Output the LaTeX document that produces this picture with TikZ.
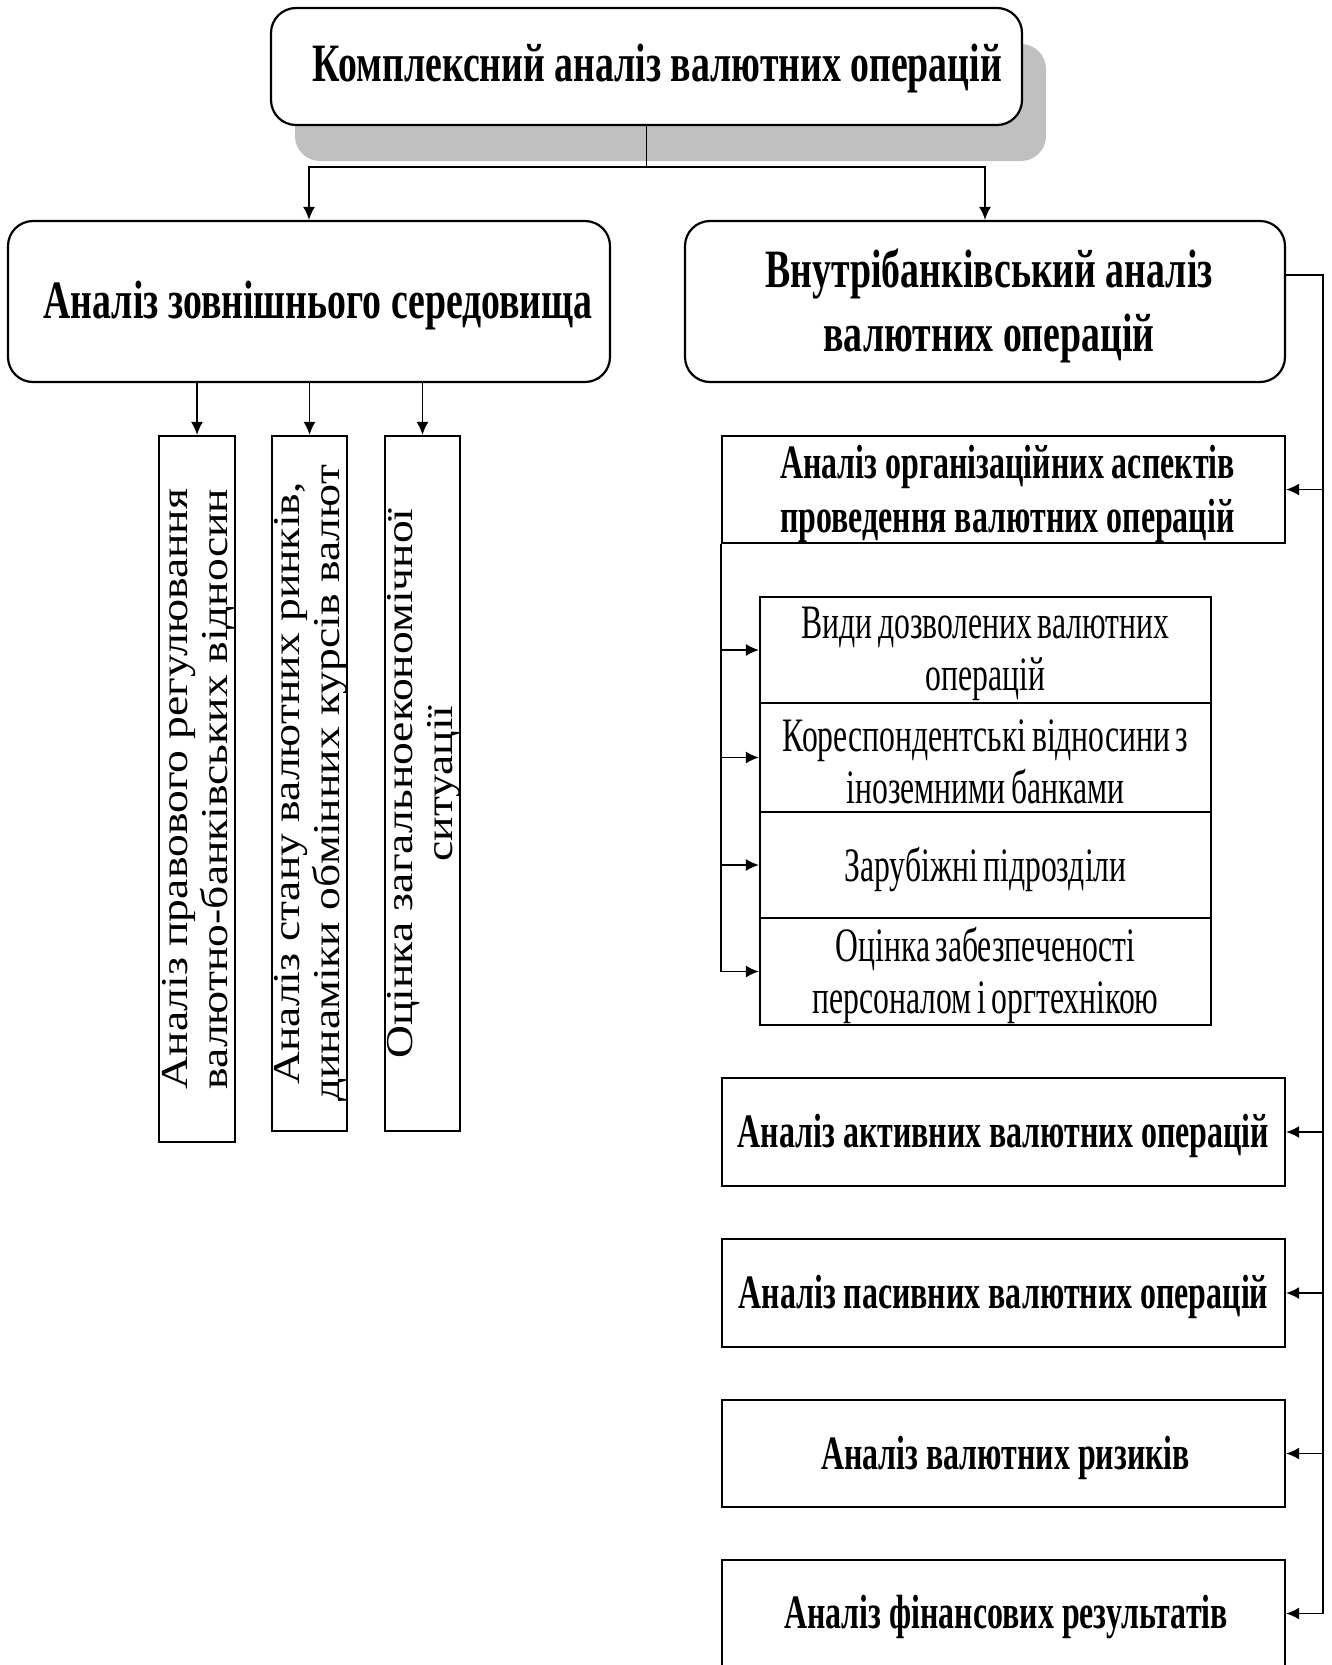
\documentclass[tikz,border=0pt]{standalone}
\usepackage{fontspec}
\setmainfont{Liberation Serif}
\newfontfamily\condA[FakeStretch=0.7]{Liberation Serif}
\newfontfamily\condB[FakeStretch=0.665]{Liberation Serif}
\newfontfamily\condC[FakeStretch=0.66,WordSpace=0.7]{Liberation Serif}
\newfontfamily\wideV[FakeStretch=1.2]{Liberation Serif}
\newcommand\lowr[1]{\raisebox{-4pt}[\height][\depth]{#1}}
\usetikzlibrary{arrows.meta}
\definecolor{shad}{RGB}{192,192,192}
\begin{document}
\begin{tikzpicture}[x=1pt,y=-1pt]
\tikzset{
 rbox/.style={draw, line width=2.2pt, rounded corners=25pt, fill=white, inner sep=0pt, align=center},
 sbox/.style={draw, line width=2.2pt, fill=white, inner sep=0pt, align=center},
 conn/.style={line width=1.7pt},
 arr/.style={conn, -{Latex[length=13pt,width=12pt]}},
 btext/.style={font=\condA\bfseries\fontsize{54}{64}\selectfont},
 btextb/.style={font=\condB\bfseries\fontsize{48}{54}\selectfont},
 rtext/.style={font=\condC\fontsize{48}{52}\selectfont},
 vtext/.style={font=\wideV\fontsize{38}{40}\selectfont, rotate=90, align=center, inner sep=0pt},
}
\useasboundingbox (0,0) rectangle (1331,1665);
% shadow of the title box
\fill[shad, rounded corners=25pt] (295,44) rectangle (1046,161);
\node[rbox, btext, minimum width=751pt, minimum height=117pt] (top) at (646.5,66.5) {\hspace*{22pt}\raisebox{-2pt}[\height][\depth]{Комплексний аналіз валютних операцій}};
\node[rbox, btext, minimum width=602pt, minimum height=161pt] (ext) at (309,301.5) {\hspace*{18pt}\lowr{Аналіз зовнішнього середовища}};
\node[rbox, btext, minimum width=600pt, minimum height=161pt] (int) at (985,301.5) {\hspace*{8pt}\lowr{Внутрібанківський аналіз}\\\hspace*{8pt}\lowr{валютних операцій}};
% vertical boxes
\node[sbox, minimum width=76pt, minimum height=706pt] (vb1) at (197,789) {};
\node[sbox, minimum width=75pt, minimum height=695pt] (vb2) at (309.5,783.5) {};
\node[sbox, minimum width=75pt, minimum height=695pt] (vb3) at (422.5,783.5) {};
\node[vtext] (vt1) at ([xshift=1.5pt]vb1.center) {Аналіз правового регулювання\\валютно-банківських відносин};
\node[vtext] (vt2) at ([xshift=1.5pt]vb2.center) {Аналіз стану валютних ринків,\\динаміки обмінних курсів валют};
\node[vtext] (vt3) at ([xshift=1.5pt]vb3.center) {Оцінка загальноекономічної\\ситуації};
% right column
\node[sbox, btextb, minimum width=563pt, minimum height=107pt] (org) at (1003.5,489.5) {\hspace*{8pt}\lowr{Аналіз організаційних аспектів}\\\hspace*{8pt}\lowr{проведення валютних операцій}};
\node[sbox, rtext, minimum width=451pt, minimum height=106pt] (s1) at (985.5,650) {\lowr{Види дозволених валютних}\\\lowr{операцій}};
\node[sbox, rtext, minimum width=451pt, minimum height=109pt] (s2) at (985.5,757.5) {\lowr{Кореспондентські відносини з}\\\lowr{іноземними банками}};
\node[sbox, rtext, minimum width=451pt, minimum height=106pt] (s3) at (985.5,865) {\lowr{Зарубіжні підрозділи}};
\node[sbox, rtext, minimum width=451pt, minimum height=107pt] (s4) at (985.5,971.5) {\lowr{Оцінка забезпеченості}\\\lowr{персоналом і оргтехнікою}};
\node[sbox, btextb, minimum width=563pt, minimum height=108pt] (act) at (1003.5,1132) {\lowr{Аналіз активних валютних операцій}};
\node[sbox, btextb, minimum width=563pt, minimum height=108pt] (pas) at (1003.5,1293) {\lowr{Аналіз пасивних валютних операцій}};
\node[sbox, btextb, minimum width=563pt, minimum height=107pt] (ris) at (1003.5,1453.5) {\hspace*{4pt}\lowr{Аналіз валютних ризиків}};
\node[sbox, btextb, minimum width=563pt, minimum height=107pt] (fin) at (1003.5,1613.5) {\hspace*{5pt}\lowr{Аналіз фінансових результатів}};
% connectors from the title
\coordinate (split) at (646.5,167);
\draw[conn] (top.south) -- (split);
\draw[arr] (split) -| (ext.north);
\draw[arr] (split) -| (int.north);
% external analysis
\draw[arr] (vb1.north |- ext.south) -- (vb1.north);
\draw[arr] (vb2.north |- ext.south) -- (vb2.north);
\draw[arr] (vb3.north |- ext.south) -- (vb3.north);
% internal analysis bus
\coordinate (rbus) at (1323,275);
\draw[conn] (int.east |- rbus) -- (rbus) -- (rbus |- fin.east);
\draw[arr] (rbus |- org.east) -- (org.east);
\draw[arr] (rbus |- act.east) -- (act.east);
\draw[arr] (rbus |- pas.east) -- (pas.east);
\draw[arr] (rbus |- ris.east) -- (ris.east);
\draw[arr] (rbus |- fin.east) -- (fin.east);
% organisational sub-items
\draw[conn] (org.south west) -- (org.south west |- s4.west);
\draw[arr] (org.south west |- s1.west) -- (s1.west);
\draw[arr] (org.south west |- s2.west) -- (s2.west);
\draw[arr] (org.south west |- s3.west) -- (s3.west);
\draw[arr] (org.south west |- s4.west) -- (s4.west);
\end{tikzpicture}
\end{document}
